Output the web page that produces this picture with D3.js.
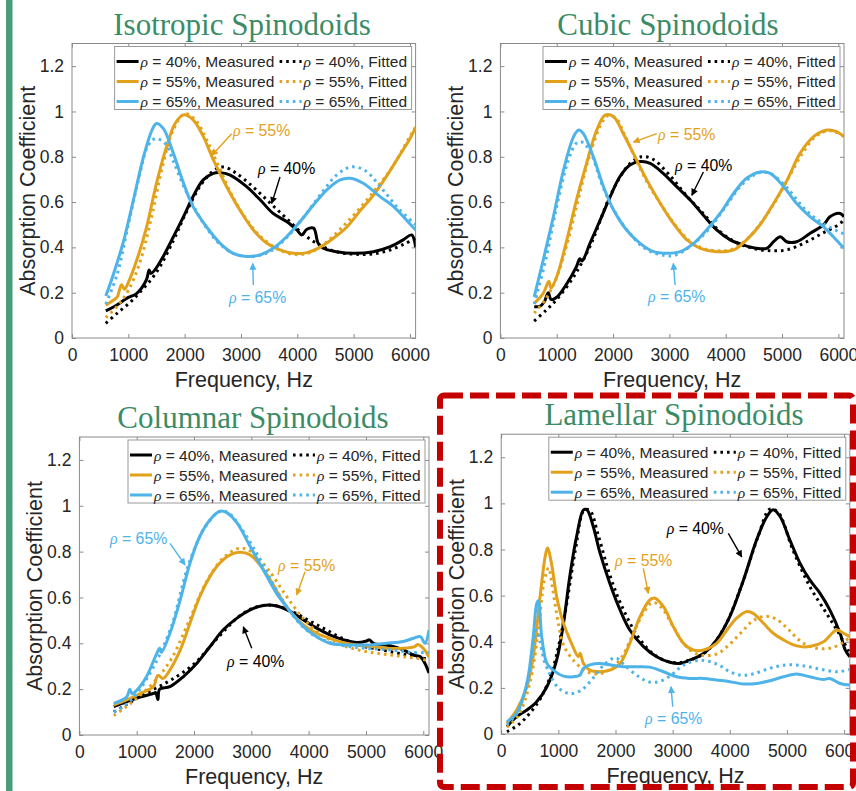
<!DOCTYPE html>
<html><head><meta charset="utf-8">
<script src="https://cdn.jsdelivr.net/npm/d3@7"></script>
<style>body{margin:0;background:#fff;} svg{display:block;}</style>
</head><body><svg id="c" width="856" height="791"></svg>
<script>
// ---------- categories / labels ----------
const panelTitles = ["Isotropic Spinodoids","Cubic Spinodoids","Columnar Spinodoids","Lamellar Spinodoids"];
const densities = ["40%","55%","65%"];
const kinds = ["Measured","Fitted"];
const seriesColors = ["#000000","#E2A11B","#4DB3E8"];
const xTicks = [0,1000,2000,3000,4000,5000,6000];
const xTickLabels = ["0","1000","2000","3000","4000","5000","6000"];
const yTicks = [0,0.2,0.4,0.6,0.8,1,1.2];
const yTickLabels = ["0","0.2","0.4","0.6","0.8","1","1.2"];
const xLabel = "Frequency, Hz";
const yLabel = "Absorption Coefficient";

// ---------- Isotropic ----------
const iso40Measured = [[600,0.12],[760,0.14],[970,0.175],[1150,0.197],[1320,0.256],[1370,0.30],[1400,0.285],[1470,0.30],[1620,0.36],[1800,0.447],[1980,0.536],[2150,0.625],[2330,0.698],[2510,0.727],[2630,0.73],[2800,0.72],[3100,0.668],[3340,0.61],[3570,0.55],[3810,0.514],[3990,0.477],[4080,0.455],[4170,0.48],[4290,0.485],[4370,0.418],[4460,0.396],[4700,0.381],[5000,0.374],[5350,0.381],[5650,0.403],[5880,0.433],[6030,0.455],[6100,0.40]];
const iso40Fitted = [[600,0.065],[800,0.109],[1000,0.15],[1200,0.2],[1500,0.29],[1800,0.43],[2000,0.54],[2300,0.68],[2550,0.745],[2700,0.755],[2900,0.73],[3200,0.67],[3500,0.6],[3800,0.53],[4100,0.46],[4400,0.41],[4700,0.38],[5000,0.37],[5300,0.37],[5600,0.385],[5900,0.415],[6100,0.44]];
const iso55Measured = [[600,0.145],[740,0.168],[800,0.18],[880,0.235],[930,0.215],[1000,0.245],[1150,0.344],[1325,0.491],[1500,0.683],[1680,0.845],[1830,0.947],[1980,0.985],[2150,0.963],[2330,0.89],[2510,0.786],[2745,0.668],[2980,0.565],[3220,0.477],[3460,0.418],[3690,0.389],[3930,0.374],[4170,0.377],[4400,0.40],[4640,0.44],[4880,0.49],[5110,0.56],[5350,0.63],[5600,0.72],[5850,0.82],[6000,0.88],[6100,0.93]];
const iso55Fitted = [[600,0.09],[800,0.14],[1000,0.21],[1200,0.33],[1400,0.52],[1600,0.75],[1800,0.92],[2000,0.99],[2200,0.96],[2400,0.87],[2600,0.76],[2800,0.65],[3000,0.56],[3300,0.46],[3600,0.4],[3900,0.37],[4200,0.375],[4500,0.42],[4800,0.49],[5100,0.57],[5400,0.66],[5700,0.76],[6000,0.89],[6100,0.93]];
const iso65Measured = [[600,0.185],[740,0.285],[920,0.432],[1090,0.609],[1270,0.80],[1420,0.918],[1500,0.947],[1620,0.925],[1800,0.815],[1980,0.683],[2150,0.58],[2390,0.49],[2630,0.418],[2860,0.374],[3100,0.36],[3340,0.367],[3570,0.396],[3810,0.447],[4050,0.514],[4290,0.588],[4520,0.653],[4760,0.698],[4940,0.705],[5170,0.683],[5470,0.624],[5710,0.58],[5940,0.52],[6100,0.477]];
const iso65Fitted = [[600,0.15],[800,0.28],[1000,0.5],[1200,0.72],[1350,0.85],[1480,0.88],[1650,0.86],[1800,0.78],[2000,0.66],[2300,0.52],[2600,0.42],[2900,0.37],[3200,0.36],[3500,0.38],[3800,0.44],[4100,0.53],[4400,0.63],[4700,0.72],[4950,0.755],[5200,0.74],[5500,0.66],[5800,0.57],[6100,0.5]];
const isoNotes = [
  {s:1, at:[2858,0.890], from:[2835,0.902], to:[2480,0.806]},
  {s:0, at:[3302,0.723], from:[3693,0.711], to:[3545,0.594]},
  {s:2, at:[2787,0.154], from:[3219,0.234], to:[3208,0.329]}];

// ---------- Cubic ----------
const cub40Measured = [[600,0.138],[700,0.14],[780,0.16],[850,0.2],[900,0.17],[1000,0.18],[1180,0.24],[1350,0.315],[1410,0.35],[1450,0.34],[1590,0.418],[1770,0.52],[1950,0.624],[2120,0.712],[2300,0.764],[2480,0.779],[2660,0.771],[2890,0.727],[3130,0.668],[3370,0.609],[3600,0.543],[3840,0.477],[4080,0.433],[4320,0.41],[4550,0.396],[4730,0.396],[4850,0.425],[4970,0.447],[5080,0.425],[5260,0.425],[5500,0.462],[5740,0.5],[5850,0.535],[6030,0.55],[6100,0.535]];
const cub40Fitted = [[600,0.075],[800,0.12],[1000,0.17],[1300,0.27],[1600,0.41],[1900,0.6],[2100,0.7],[2300,0.77],[2500,0.8],[2700,0.79],[3000,0.72],[3300,0.63],[3600,0.55],[3900,0.47],[4200,0.42],[4500,0.395],[4800,0.385],[5100,0.39],[5400,0.42],[5700,0.46],[6000,0.5],[6100,0.52]];
const cub55Measured = [[600,0.153],[760,0.197],[860,0.25],[900,0.22],[1000,0.27],[1180,0.433],[1350,0.609],[1530,0.771],[1710,0.918],[1860,0.984],[2010,0.977],[2180,0.903],[2360,0.815],[2600,0.697],[2840,0.594],[3070,0.506],[3310,0.433],[3550,0.396],[3840,0.381],[4140,0.389],[4370,0.433],[4610,0.5],[4850,0.594],[5090,0.697],[5320,0.815],[5560,0.889],[5800,0.918],[5970,0.911],[6100,0.889]];
const cub55Fitted = [[600,0.11],[800,0.17],[1000,0.27],[1200,0.43],[1400,0.63],[1600,0.82],[1800,0.95],[1900,0.98],[2050,0.97],[2200,0.9],[2400,0.79],[2600,0.69],[2850,0.59],[3100,0.5],[3350,0.43],[3600,0.395],[3850,0.385],[4100,0.39],[4350,0.43],[4600,0.5],[4850,0.59],[5100,0.7],[5350,0.81],[5600,0.89],[5850,0.915],[6100,0.89]];
const cub65Measured = [[600,0.182],[760,0.344],[940,0.535],[1120,0.741],[1300,0.889],[1390,0.918],[1470,0.903],[1650,0.8],[1830,0.668],[2010,0.565],[2240,0.477],[2480,0.418],[2720,0.381],[2950,0.374],[3190,0.381],[3430,0.418],[3660,0.477],[3900,0.55],[4140,0.638],[4370,0.705],[4610,0.733],[4790,0.727],[5030,0.668],[5260,0.594],[5500,0.535],[5740,0.49],[5910,0.447],[6100,0.396]];
const cub65Fitted = [[600,0.15],[800,0.34],[1000,0.58],[1200,0.78],[1350,0.86],[1450,0.865],[1600,0.82],[1800,0.68],[2000,0.57],[2300,0.46],[2600,0.39],[2900,0.365],[3100,0.365],[3400,0.41],[3700,0.48],[4000,0.58],[4300,0.68],[4600,0.73],[4800,0.725],[5100,0.66],[5400,0.57],[5700,0.51],[6000,0.47],[6100,0.46]];
const cubNotes = [
  {s:1, at:[2799,0.873], from:[2776,0.902], to:[2360,0.865]},
  {s:0, at:[3101,0.736], from:[3604,0.733], to:[3398,0.630]},
  {s:2, at:[2621,0.159], from:[3101,0.234], to:[3071,0.329]}];

// ---------- Columnar ----------
const col40Measured = [[600,0.124],[825,0.145],[1060,0.166],[1290,0.181],[1330,0.185],[1370,0.155],[1400,0.2],[1580,0.211],[1810,0.254],[2050,0.313],[2280,0.386],[2510,0.459],[2750,0.51],[2980,0.546],[3210,0.565],[3440,0.563],[3680,0.539],[3910,0.502],[4140,0.466],[4370,0.437],[4610,0.415],[4840,0.403],[5010,0.41],[5060,0.415],[5130,0.4],[5420,0.389],[5650,0.371],[5830,0.349],[5950,0.341],[6030,0.312],[6100,0.27]];
const col40Fitted = [[600,0.1],[800,0.13],[1000,0.16],[1300,0.2],[1600,0.24],[2000,0.31],[2400,0.42],[2800,0.52],[3100,0.56],[3400,0.565],[3700,0.54],[4000,0.5],[4300,0.46],[4600,0.42],[4900,0.39],[5200,0.375],[5500,0.36],[5800,0.345],[6100,0.33]];
const col55Measured = [[600,0.131],[825,0.153],[1060,0.181],[1290,0.211],[1370,0.26],[1460,0.247],[1580,0.284],[1760,0.371],[1930,0.488],[2100,0.604],[2280,0.692],[2450,0.75],[2630,0.786],[2800,0.797],[2980,0.786],[3150,0.742],[3330,0.677],[3500,0.604],[3680,0.539],[3910,0.48],[4140,0.444],[4370,0.422],[4610,0.403],[4840,0.393],[5070,0.386],[5360,0.378],[5650,0.378],[5850,0.385],[5900,0.395],[6000,0.378],[6100,0.34]];
const col55Fitted = [[600,0.085],[800,0.12],[1000,0.16],[1300,0.23],[1600,0.33],[1900,0.49],[2200,0.66],[2500,0.77],[2800,0.815],[3000,0.8],[3300,0.72],[3600,0.61],[3900,0.51],[4200,0.44],[4500,0.4],[4800,0.375],[5100,0.36],[5400,0.35],[5700,0.34],[6000,0.33],[6100,0.32]];
const col65Measured = [[600,0.138],[825,0.166],[880,0.2],[920,0.18],[1000,0.195],[1170,0.254],[1350,0.356],[1400,0.378],[1430,0.36],[1580,0.444],[1760,0.59],[1930,0.75],[2100,0.866],[2280,0.939],[2450,0.976],[2570,0.97],[2750,0.925],[2980,0.822],[3210,0.72],[3440,0.618],[3680,0.539],[3910,0.473],[4140,0.429],[4370,0.4],[4610,0.393],[4840,0.393],[5070,0.393],[5360,0.4],[5650,0.408],[5830,0.422],[5950,0.429],[6030,0.4],[6100,0.458]];
const col65Fitted = [[600,0.1],[800,0.13],[1000,0.18],[1300,0.3],[1600,0.47],[1900,0.74],[2200,0.91],[2450,0.975],[2600,0.97],[2800,0.91],[3100,0.79],[3400,0.65],[3700,0.53],[4000,0.45],[4300,0.41],[4600,0.39],[4900,0.38],[5200,0.375],[5500,0.37],[5800,0.36],[6100,0.36]];
const colNotes = [
  {s:2, at:[534,0.833], from:[1581,0.836], to:[1843,0.742]},
  {s:1, at:[3466,0.715], from:[3937,0.712], to:[3792,0.611]},
  {s:0, at:[2576,0.297], from:[3007,0.378], to:[2860,0.472]}];

// ---------- Lamellar ----------
const lam40Measured = [[100,0.032],[270,0.075],[450,0.104],[620,0.14],[800,0.205],[970,0.32],[1090,0.48],[1200,0.683],[1320,0.857],[1440,0.972],[1500,0.972],[1610,0.9],[1730,0.784],[1900,0.654],[2080,0.538],[2250,0.451],[2490,0.379],[2720,0.335],[2950,0.311],[3130,0.306],[3300,0.32],[3540,0.349],[3770,0.408],[4000,0.509],[4240,0.668],[4470,0.842],[4650,0.943],[4760,0.972],[4880,0.943],[5050,0.842],[5230,0.74],[5400,0.668],[5580,0.61],[5750,0.538],[5930,0.437],[6020,0.365],[6100,0.335]];
const lam40Fitted = [[100,0.01],[300,0.04],[500,0.09],[700,0.16],[900,0.28],[1100,0.5],[1300,0.8],[1450,0.97],[1550,0.97],[1700,0.86],[1900,0.69],[2100,0.56],[2400,0.42],[2700,0.34],[3000,0.31],[3300,0.32],[3600,0.36],[3900,0.46],[4200,0.64],[4500,0.86],[4700,0.975],[4850,0.96],[5100,0.8],[5400,0.64],[5700,0.52],[5900,0.44],[6100,0.35]];
const lam55Measured = [[100,0.047],[270,0.104],[450,0.205],[560,0.335],[680,0.596],[770,0.77],[810,0.806],[880,0.74],[970,0.596],[1090,0.48],[1230,0.393],[1350,0.335],[1380,0.35],[1440,0.306],[1550,0.277],[1730,0.27],[1900,0.277],[2080,0.306],[2250,0.393],[2430,0.509],[2600,0.581],[2690,0.589],[2840,0.552],[3010,0.466],[3190,0.393],[3360,0.364],[3540,0.364],[3770,0.393],[3950,0.451],[4120,0.502],[4300,0.531],[4410,0.523],[4590,0.48],[4760,0.437],[4940,0.408],[5170,0.382],[5400,0.379],[5640,0.4],[5870,0.451],[5990,0.437],[6100,0.422]];
const lam55Fitted = [[100,0.03],[300,0.08],[500,0.22],[650,0.45],[750,0.66],[830,0.72],[900,0.63],[1000,0.48],[1100,0.38],[1300,0.31],[1500,0.27],[1700,0.26],[1900,0.28],[2100,0.33],[2300,0.43],[2500,0.53],[2650,0.57],[2800,0.55],[3000,0.47],[3200,0.39],[3400,0.35],[3600,0.34],[3800,0.35],[4000,0.39],[4200,0.44],[4400,0.49],[4600,0.51],[4800,0.5],[5000,0.46],[5200,0.41],[5400,0.38],[5600,0.37],[5800,0.375],[6000,0.4],[6100,0.42]];
const lam65Measured = [[100,0.053],[270,0.09],[450,0.22],[560,0.42],[620,0.564],[650,0.578],[710,0.42],[800,0.306],[910,0.277],[1090,0.251],[1260,0.248],[1380,0.256],[1440,0.285],[1550,0.3],[1730,0.306],[1900,0.3],[2140,0.292],[2370,0.292],[2600,0.29],[2840,0.27],[3070,0.248],[3300,0.241],[3540,0.241],[3770,0.234],[4000,0.227],[4240,0.217],[4470,0.219],[4700,0.231],[4940,0.248],[5170,0.26],[5400,0.248],[5640,0.236],[5750,0.241],[5930,0.219],[6100,0.212]];
const lam65Fitted = [[100,0.04],[300,0.1],[450,0.22],[550,0.36],[620,0.45],[680,0.4],[750,0.32],[850,0.26],[1000,0.2],[1200,0.175],[1400,0.19],[1600,0.24],[1800,0.3],[2000,0.33],[2150,0.3],[2400,0.25],[2600,0.225],[2800,0.23],[3000,0.26],[3200,0.3],[3500,0.32],[3800,0.3],[4000,0.27],[4200,0.255],[4400,0.26],[4700,0.285],[5000,0.3],[5300,0.295],[5600,0.28],[5900,0.27],[6100,0.28]];
const lamNotes = [
  {s:0, at:[2896,0.867], from:[3974,0.870], to:[4209,0.768]},
  {s:1, at:[1992,0.728], from:[2487,0.718], to:[2574,0.610]},
  {s:2, at:[2517,0.043], from:[3001,0.118], to:[2972,0.205]}];

// ---------- layout ----------
const panels = [
  {title:panelTitles[0], data:[[iso40Measured,iso40Fitted],[iso55Measured,iso55Fitted],[iso65Measured,iso65Fitted]], notes:isoNotes, l:72, r:415.6, t:43.5, b:338, tx:242},
  {title:panelTitles[1], data:[[cub40Measured,cub40Fitted],[cub55Measured,cub55Fitted],[cub65Measured,cub65Fitted]], notes:cubNotes, l:500.4, r:844, t:43.5, b:338, tx:668},
  {title:panelTitles[2], data:[[col40Measured,col40Fitted],[col55Measured,col55Fitted],[col65Measured,col65Fitted]], notes:colNotes, l:79.4, r:429, t:437, b:735, tx:253},
  {title:panelTitles[3], data:[[lam40Measured,lam40Fitted],[lam55Measured,lam55Fitted],[lam65Measured,lam65Fitted]], notes:lamNotes, l:501.2, r:849.8, t:434.2, b:734, tx:674}
];

const svg = d3.select("#c");
const defs = svg.append("defs");
seriesColors.forEach((c,i)=>{
  defs.append("marker").attr("id","ah"+i).attr("viewBox","0 0 10 10").attr("refX",9).attr("refY",5)
    .attr("markerWidth",8).attr("markerHeight",7).attr("markerUnits","userSpaceOnUse").attr("orient","auto")
    .append("path").attr("d","M0,0L10,5L0,10z").attr("fill",c);
});

// green side bar
svg.append("rect").attr("x",6).attr("y",0).attr("width",6.5).attr("height",791).attr("fill","#4B9C7B");

const SANS = "'Liberation Sans', Arial, sans-serif";
const txtCol = "#262626";
const axCol = "#8a8a8a";
const dashFit = "2.6,4";

function rhoText(sel, rest){
  sel.append("tspan").attr("font-family","'Liberation Serif', serif").attr("font-style","italic").text("ρ");
  sel.append("tspan").text(" = " + rest);
}

panels.forEach((p,pi)=>{
  const x = d3.scaleLinear().domain([0,6100]).range([p.l,p.r]);
  const y = d3.scaleLinear().domain([0,1.3]).range([p.b,p.t]);
  const g = svg.append("g");
  const cid = "clip"+pi;
  defs.append("clipPath").attr("id",cid).append("rect")
    .attr("x",p.l).attr("y",p.t).attr("width",p.r-p.l).attr("height",p.b-p.t);

  g.append("rect").attr("x",p.l).attr("y",p.t).attr("width",p.r-p.l).attr("height",p.b-p.t).attr("fill","#fff");

  const ax = g.append("g").attr("transform",`translate(0,${p.b})`)
    .call(d3.axisBottom(x).tickValues(xTicks).tickFormat((d,i)=>xTickLabels[i]).tickSizeInner(-4).tickSizeOuter(0).tickPadding(11));
  const axT = g.append("g").attr("transform",`translate(0,${p.t})`)
    .call(d3.axisTop(x).tickValues(xTicks).tickFormat("").tickSizeInner(-4).tickSizeOuter(0));
  const ay = g.append("g").attr("transform",`translate(${p.l},0)`)
    .call(d3.axisLeft(y).tickValues(yTicks).tickFormat((d,i)=>yTickLabels[i]).tickSizeInner(-4).tickSizeOuter(0).tickPadding(8));
  const ayR = g.append("g").attr("transform",`translate(${p.r},0)`)
    .call(d3.axisRight(y).tickValues(yTicks).tickFormat("").tickSizeInner(-4).tickSizeOuter(0));
  [ax,axT,ay,ayR].forEach(a=>{
    a.select(".domain").remove();
    a.selectAll("line").attr("stroke",axCol);
    a.selectAll("text").attr("font-family",SANS).attr("font-size",17.5).attr("fill",txtCol);
  });
  g.append("rect").attr("x",p.l).attr("y",p.t).attr("width",p.r-p.l).attr("height",p.b-p.t)
    .attr("fill","none").attr("stroke",axCol).attr("stroke-width",1);

  g.append("text").attr("x",(p.l+p.r)/2).attr("y",p.b+49).attr("text-anchor","middle")
    .attr("font-family",SANS).attr("font-size",21.5).attr("fill",txtCol).text(xLabel);
  g.append("text").attr("transform",`translate(${p.l-37},${(p.t+p.b)/2}) rotate(-90)`).attr("text-anchor","middle")
    .attr("font-family",SANS).attr("font-size",21.5).attr("fill",txtCol).text(yLabel);

  svg.append("text").attr("x",p.tx).attr("y",p.t-9).attr("text-anchor","middle")
    .attr("font-family","'Liberation Serif', 'Times New Roman', serif").attr("font-size",31)
    .attr("fill","#3B8C66").text(p.title);

  const line = d3.line().x(d=>x(d[0])).y(d=>y(d[1])).curve(d3.curveCatmullRom.alpha(0.5));
  const cg = g.append("g").attr("clip-path",`url(#${cid})`);
  p.data.forEach((pair,si)=>{
    cg.append("path").attr("d",line(pair[0])).attr("fill","none").attr("stroke",seriesColors[si])
      .attr("stroke-width",3).attr("stroke-linejoin","round");
    cg.append("path").attr("d",line(pair[1])).attr("fill","none").attr("stroke",seriesColors[si])
      .attr("stroke-width",3).attr("stroke-dasharray",dashFit);
  });

  p.notes.forEach(n=>{
    g.append("line").attr("x1",x(n.from[0])).attr("y1",y(n.from[1])).attr("x2",x(n.to[0])).attr("y2",y(n.to[1]))
      .attr("stroke",seriesColors[n.s]).attr("stroke-width",1.4).attr("marker-end",`url(#ah${n.s})`);
    const t = g.append("text").attr("x",x(n.at[0])).attr("y",y(n.at[1]))
      .attr("font-family",SANS).attr("font-size",15.8).attr("fill",seriesColors[n.s]);
    rhoText(t, densities[n.s]);
  });

  const bw = 297, bh = 63;
  const bx = p.r - 4 - bw, by = p.t + 3;
  const lg = g.append("g");
  lg.append("rect").attr("x",bx).attr("y",by).attr("width",bw).attr("height",bh)
    .attr("fill","#fff").attr("stroke","#9a9a9a").attr("stroke-width",1);
  densities.forEach((dn,si)=>{
    const ry = by + 15 + si*20;
    kinds.forEach((k,ki)=>{
      const ox = bx + (ki===0 ? 2 : 165);
      lg.append("line").attr("x1",ox).attr("x2",ox+22).attr("y1",ry).attr("y2",ry)
        .attr("stroke",seriesColors[si]).attr("stroke-width",3)
        .attr("stroke-dasharray", ki===0 ? null : dashFit);
      const t = lg.append("text").attr("x",ox+24).attr("y",ry+5.5)
        .attr("font-family",SANS).attr("font-size",15.5).attr("fill",txtCol);
      rhoText(t, dn + ", " + k);
    });
  });
});

svg.append("rect").attr("x",440).attr("y",395.5).attr("width",413).attr("height",391.5).attr("rx",4)
  .attr("fill","none").attr("stroke","#C40000").attr("stroke-width",6).attr("stroke-dasharray","19,7");
</script>
</body></html>
